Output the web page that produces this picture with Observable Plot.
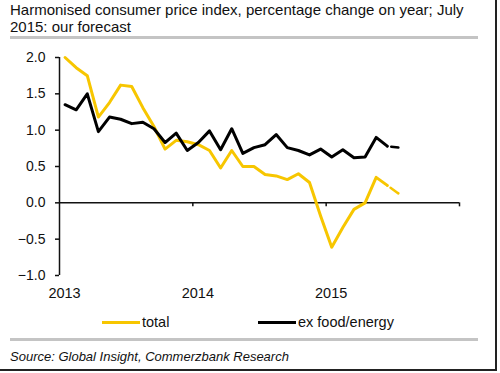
<!DOCTYPE html>
<html>
<head>
<meta charset="utf-8">
<script src="https://cdn.jsdelivr.net/npm/d3@7"></script>
<script src="https://cdn.jsdelivr.net/npm/@observablehq/plot@0.6"></script>
<style>
  body { margin: 0; background: #fff; }
  #wrap { position: relative; width: 500px; height: 373px; background: #fff; overflow: hidden;
          font-family: Arial, "Liberation Sans", sans-serif; color: #111; }
  #title { position: absolute; left: 10px; top: 1px; font-size: 15px; line-height: 17px; white-space: nowrap; }
  .rule { position: absolute; left: 10px; width: 468px; height: 3px; background: #c4c4c4; }
  #chart { position: absolute; left: 0; top: 40px; }
  .leg { position: absolute; top: 314px; font-size: 14.5px; display: flex; align-items: center; }
  .sw { display: inline-block; width: 38px; height: 3px; margin-right: 2px; }
  #source { position: absolute; left: 10px; top: 349px; font-size: 13px; font-style: italic; }
  #bR { position: absolute; left: 495px; top: 0; width: 2px; height: 371px; background: #222; }
  #bB { position: absolute; left: 0; top: 369px; width: 497px; height: 2px; background: #222; }
</style>
</head>
<body>
<div id="wrap">
  <div id="title">Harmonised consumer price index, percentage change on year; July<br>2015: our forecast</div>
  <div class="rule" style="top:36px"></div>
  <div id="chart"></div>
  <div class="leg" style="left:102px"><span class="sw" style="background:#f7c600"></span><span>total</span></div>
  <div class="leg" style="left:258px"><span class="sw" style="background:#000"></span><span>ex food/energy</span></div>
  <div class="rule" style="top:338px"></div>
  <div id="source">Source: Global Insight, Commerzbank Research</div>
  <div id="bR"></div>
  <div id="bB"></div>
</div>
<script>
// Monthly data, Jan 2013 .. Jul 2015 (last month = forecast)
const monthIndex = d3.range(31);
const total = [2.0, 1.86, 1.75, 1.18, 1.38, 1.62, 1.6, 1.31, 1.05, 0.74, 0.86, 0.84,
               0.8, 0.72, 0.48, 0.72, 0.5, 0.5, 0.39, 0.37, 0.32, 0.4, 0.28, -0.18,
               -0.61, -0.34, -0.09, 0.0, 0.35, 0.24, 0.13];
const exFoodEnergy = [1.35, 1.28, 1.5, 0.98, 1.18, 1.15, 1.09, 1.11, 1.02, 0.83, 0.96, 0.72,
                      0.83, 0.99, 0.73, 1.02, 0.68, 0.76, 0.8, 0.94, 0.76, 0.72, 0.66, 0.74,
                      0.63, 0.73, 0.62, 0.63, 0.9, 0.78, 0.76];
const forecastFrom = 29; // segment from index 29 to 30 is the forecast
const yearLabels = ["2013", "2014", "2015"];
const yearTicks = [0, 12, 24];
const yTicks = [-1, -0.5, 0, 0.5, 1, 1.5, 2];

const yellow = "#f7c600";
const rows = monthIndex.map(i => ({x: i + 0.5, total: total[i], ex: exFoodEnergy[i], i}));
const actual = rows.filter(d => d.i <= forecastFrom);
const fc = rows.filter(d => d.i >= forecastFrom);

const chart = Plot.plot({
  width: 500,
  height: 265,
  marginTop: 17,
  marginBottom: 30,
  marginLeft: 59,
  marginRight: 41,
  x: {domain: [0, 36]},
  y: {domain: [-1, 2]},
  style: {fontFamily: "Arial, 'Liberation Sans', sans-serif", fontSize: "14px", color: "#111", background: "transparent"},
  marks: [
    Plot.axisY({ticks: yTicks, tickFormat: d3.format(".1f"), tickSize: 4, tickPadding: 10, label: null, strokeWidth: 1.5}),
    Plot.axisX({ticks: yearTicks, tickFormat: (d) => yearLabels[yearTicks.indexOf(d)], tickSize: 0, tickPadding: 12, dx: 5, label: null, fontSize: 14.5}),
    Plot.ruleX([0], {y1: -1, y2: 2, stroke: "#111", strokeWidth: 1.5}),
    Plot.ruleY([0], {x1: 0, x2: 36, stroke: "#111", strokeWidth: 1.5}),
    Plot.ruleX([12, 24, 36], {y1: 0, y2: -0.055, stroke: "#111", strokeWidth: 1.5}),
    Plot.line(actual, {x: "x", y: "total", stroke: yellow, strokeWidth: 3}),
    Plot.line(fc, {x: "x", y: "total", stroke: yellow, strokeWidth: 2.5, strokeDasharray: "0,4,8"}),
    Plot.line(actual, {x: "x", y: "ex", stroke: "#000", strokeWidth: 3}),
    Plot.line(fc, {x: "x", y: "ex", stroke: "#000", strokeWidth: 2.5, strokeDasharray: "0,4,8"})
  ]
});
document.getElementById("chart").appendChild(chart);
</script>
</body>
</html>
